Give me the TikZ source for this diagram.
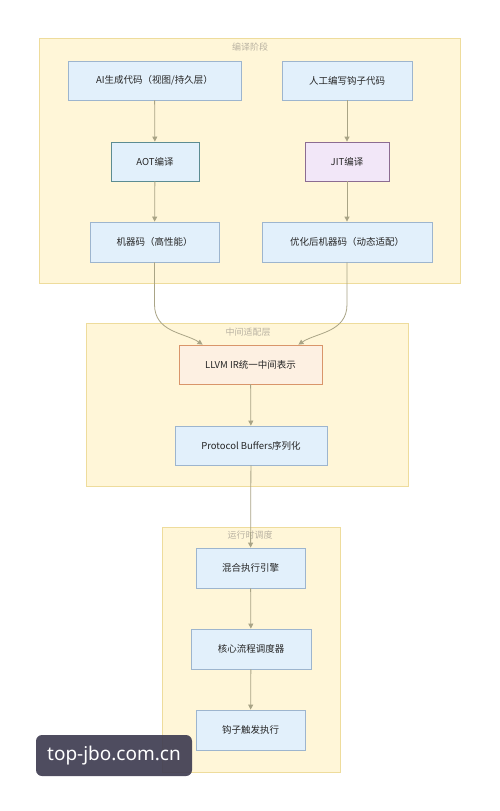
\documentclass[tikz,border=0pt]{standalone}
\usepackage{fontspec}
\setmainfont{Noto Sans CJK SC}
\newfontfamily\markfont{Noto Sans}
\usepackage{xcolor}
\usetikzlibrary{arrows.meta,positioning}

\definecolor{clfill}{HTML}{FFF6D8}
\definecolor{cldraw}{HTML}{EEDC9C}
\definecolor{nfill}{HTML}{E2F0FB}
\definecolor{ndraw}{HTML}{9DB5CE}
\definecolor{aotdraw}{HTML}{5C8C92}
\definecolor{jitfill}{HTML}{F2E7F8}
\definecolor{jitdraw}{HTML}{8C6C92}
\definecolor{irfill}{HTML}{FDF0E2}
\definecolor{irdraw}{HTML}{D9956A}
\definecolor{edgecol}{HTML}{A9A486}
\definecolor{titlecol}{HTML}{B9B2A2}
\definecolor{markbg}{HTML}{403D52}

\tikzset{
  cluster/.style={fill=clfill, draw=cldraw, line width=0.8pt},
  cltitle/.style={text=titlecol, font=\fontsize{9}{10}\selectfont},
  box/.style={draw=ndraw, fill=nfill, line width=0.8pt, minimum height=39pt,
    inner sep=0pt, text=black!85, font=\fontsize{9.5}{11}\selectfont},
  flow/.style={draw=edgecol, line width=0.8pt, -{Triangle[width=5pt,length=5pt]}}
}

\begin{document}
\begin{tikzpicture}[x=1pt,y=-1pt]
    \useasboundingbox[fill=white] (0,0) rectangle (500,811);

    % Clusters
    \draw[cluster] (39,38) rectangle (460,283);
    \node[cltitle] (t1) at (250,47) {编译阶段};
    \draw[cluster] (86,323) rectangle (408,486);
    \node[cltitle] (t2) at (248,332) {中间适配层};
    \draw[cluster] (162,527) rectangle (340,772);
    \node[cltitle] (t3) at (250,535) {运行时调度};

    % Compile stage
    \node[box, minimum width=173pt] (aigen) at (154.5,80.5) {AI生成代码（视图/持久层）};
    \node[box, minimum width=130pt] (hook) at (347,80.5) {人工编写钩子代码};
    \node[box, minimum width=88pt, draw=aotdraw] (aot) at (155,161.5) {AOT编译};
    \node[box, minimum width=84pt, fill=jitfill, draw=jitdraw] (jit) at (347,161.5) {JIT编译};
    \node[box, minimum width=129pt, minimum height=40pt] (mcode) at (154.5,242) {机器码（高性能）};
    \node[box, minimum width=170pt, minimum height=40pt] (optcode) at (347,242) {优化后机器码（动态适配）};

    % Intermediate layer
    \node[box, minimum width=143pt, fill=irfill, draw=irdraw] (llvm) at (250.5,364.5) {LLVM IR统一中间表示};
    \node[box, minimum width=152pt] (proto) at (251,445.5) {Protocol Buffers序列化};

    % Runtime scheduling
    \node[box, minimum width=109pt, minimum height=40pt] (engine) at (250.5,568) {混合执行引擎};
    \node[box, minimum width=120pt, minimum height=40pt] (sched) at (251,649) {核心流程调度器};
    \node[box, minimum width=109pt, minimum height=40pt] (trigger) at (250.5,730) {钩子触发执行};

    % Edges
    \draw[flow] (aigen) -- (aot);
    \draw[flow] (aot) -- (mcode);
    \draw[flow] (hook) -- (jit);
    \draw[flow] (jit) -- (optcode);
    \draw[flow] (mcode.south) -- ++(0,42) .. controls ++(0,28) and ++(-18,-12) .. ([xshift=24pt]llvm.north west);
    \draw[flow] (optcode.south) -- ++(0,42) .. controls ++(0,28) and ++(18,-12) .. ([xshift=-24pt]llvm.north east);
    \draw[flow] (llvm) -- (proto);
    \draw[flow] (proto) -- (engine);
    \draw[flow] (engine) -- (sched);
    \draw[flow] (sched) -- (trigger);

    % Watermark
    \node[fill=markbg, fill opacity=0.92, text opacity=1, text=white, rounded corners=6pt,
      minimum width=156pt, minimum height=41pt, font=\markfont\fontsize{19}{21}\selectfont]
      (mark) at (114,755.5) {top-jbo.com.cn};
\end{tikzpicture}
\end{document}
